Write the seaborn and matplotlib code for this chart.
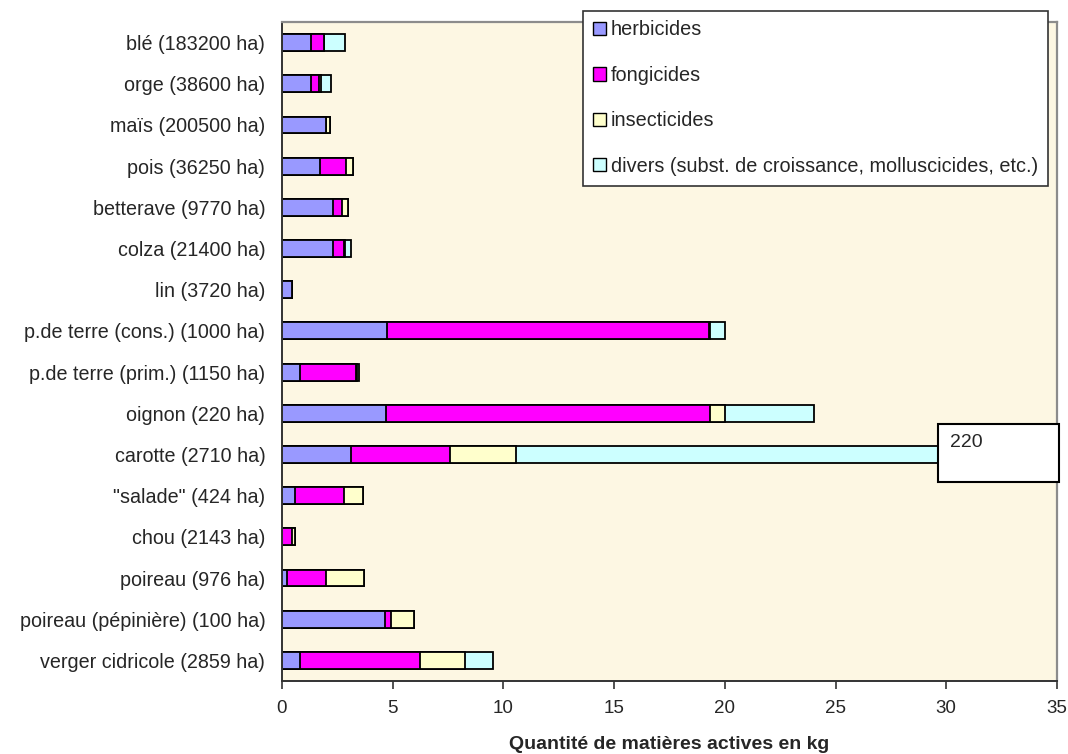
import numpy as np
import pandas as pd
import matplotlib
matplotlib.use("Agg")
import matplotlib.pyplot as plt
from matplotlib.patches import Patch, Rectangle
import seaborn as sns

crops = ["blé (183200 ha)", "orge (38600 ha)", "maïs (200500 ha)", "pois (36250 ha)",
         "betterave (9770 ha)", "colza (21400 ha)", "lin (3720 ha)",
         "p.de terre (cons.) (1000 ha)", "p.de terre (prim.) (1150 ha)", "oignon (220 ha)",
         "carotte (2710 ha)", '"salade" (424 ha)', "chou (2143 ha)", "poireau (976 ha)",
         "poireau (pépinière) (100 ha)", "verger cidricole (2859 ha)"]
herbicides = [1.31, 1.31, 1.99, 1.70, 2.30, 2.29, 0.44, 4.75, 0.81, 4.68, 3.12, 0.59, 0.0, 0.21, 4.66, 0.81]
fongicides = [0.60, 0.37, 0.0, 1.19, 0.42, 0.51, 0.0, 14.53, 2.52, 14.64, 4.46, 2.21, 0.44, 1.78, 0.25, 5.44]
insecticides = [0.0, 0.08, 0.16, 0.32, 0.25, 0.05, 0.0, 0.05, 0.04, 0.68, 2.97, 0.84, 0.15, 1.73, 1.04, 2.00]
divers = [0.92, 0.47, 0.0, 0.0, 0.0, 0.27, 0.0, 0.67, 0.12, 4.02, 209.45, 0.0, 0.0, 0.0, 0.0, 1.26]

series = ["herbicides", "fongicides", "insecticides",
          "divers (subst. de croissance, molluscicides, etc.)"]
colors = ["#9999FF", "#FF00FF", "#FFFFCC", "#CCFFFF"]

df = pd.DataFrame({"crop": crops, "h": herbicides, "f": fongicides,
                   "i": insecticides, "d": divers})
# cumulative sums for stacking
cum = df[["h", "f", "i", "d"]].cumsum(axis=1)
cum["crop"] = df["crop"]

sns.set_style("white")
plt.rcParams["font.family"] = ["Liberation Sans", "DejaVu Sans"]

fig = plt.figure(figsize=(10.68, 7.54), dpi=100)
ax = fig.add_axes([0.264, 0.0968, 0.7257, 0.874])
ax.set_facecolor("#FDF7E3")

# draw the longest (total) first, then the shorter ones on top
for col, c in zip(["d", "i", "f", "h"], colors[::-1]):
    sns.barplot(data=cum, x=col, y="crop", order=crops, color=c, orient="h",
                width=0.41, edgecolor="black", linewidth=1.3, errorbar=None,
                saturation=1, ax=ax)

ax.set_xlim(0, 35)
ax.set_ylim(15.5, -0.5)
ax.set_xticks(np.arange(0, 36, 5))
ax.set_yticks(np.arange(-0.5, 16, 1), minor=True)
ax.tick_params(axis="y", which="major", length=0, pad=12, labelsize=14.2)
ax.tick_params(axis="y", which="minor", length=6, width=1.2, direction="out", color="#333333")
ax.tick_params(axis="x", which="major", length=6, width=1.2, direction="out",
               color="#333333", pad=8, labelsize=13.5, bottom=True)
ax.set_ylabel("")
ax.set_xlabel("Quantité de matières actives en kg", fontsize=14, fontweight="bold", labelpad=13)

for s in ["top", "right"]:
    ax.spines[s].set_color("#8c8c8c")
    ax.spines[s].set_linewidth(1.6)
for s in ["left", "bottom"]:
    ax.spines[s].set_color("#333333")
    ax.spines[s].set_linewidth(1.4)

# box with the off-scale total for carotte
ax.add_patch(Rectangle((0.846, 0.302), 0.156, 0.088, transform=ax.transAxes,
                       facecolor="white", edgecolor="black", linewidth=1.5,
                       clip_on=False, zorder=5))
ax.text(0.862, 0.362, "220", transform=ax.transAxes, fontsize=14,
        va="center", ha="left", zorder=6)

handles = [Patch(facecolor=c, edgecolor="black", linewidth=1) for c in colors]
leg = fig.legend(handles, series, loc="upper left", bbox_to_anchor=(0.546, 0.986),
                 fontsize=14.3, frameon=True, fancybox=False, framealpha=1,
                 edgecolor="#333333", labelspacing=1.33, handlelength=0.65,
                 handleheight=0.65, handletextpad=0.25, borderpad=0.5, borderaxespad=0)
leg.get_frame().set_linewidth(1.2)

fig.savefig("out.png", dpi=100, facecolor="white")
